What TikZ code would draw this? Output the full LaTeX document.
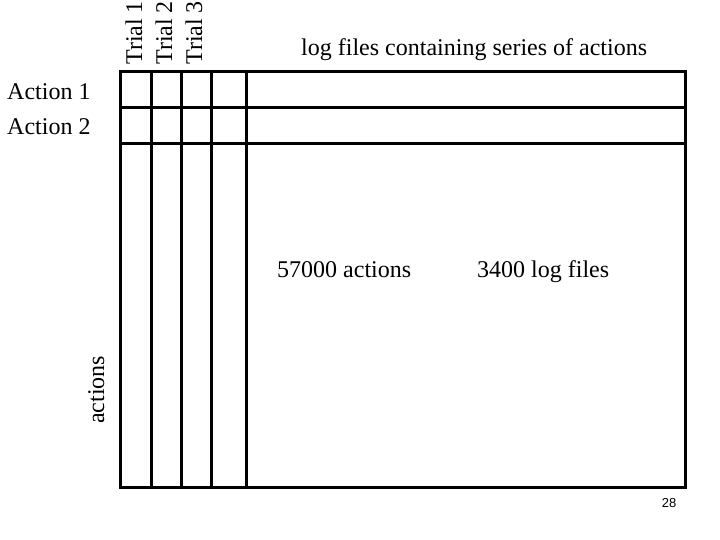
\documentclass[tikz,border=0pt]{standalone}
\usepackage{fontspec}
\setmainfont{Liberation Serif}
\newfontfamily\arialfont{Liberation Sans}
\usepackage{tikz}

\begin{document}
\begin{tikzpicture}[x=1pt, y=-1pt,
	gridline/.style={line width=3pt, line cap=rect},
	lbl/.style={inner sep=0pt, anchor=base west, font=\fontsize{24}{28}\selectfont},
	uplbl/.style={lbl, rotate=90}]
	\path (0,0) to (720,540); 

	% the matrix
	\draw[gridline] (120,72) rectangle (685,487);
	\draw[gridline] (151,72) -- (151,487);
	\draw[gridline] (181,72) -- (181,487);
	\draw[gridline] (211,72) -- (211,487);
	\draw[gridline] (246,72) -- (246,487);
	\draw[gridline] (120,108) -- (685,108);
	\draw[gridline] (120,144) -- (685,144);

	\node[uplbl] (trial1) at (142,65) {Trial 1};
	\node[uplbl] (trial2) at (172,65) {Trial 2};
	\node[uplbl] (trial3) at (202,65) {Trial 3};

	\node[lbl] (action1) at (7,100) {Action 1};
	\node[lbl] (action2) at (7,135) {Action 2};

	\node[lbl] (logfiles) at (301,56) {log files containing series of actions};
	\node[lbl] (nactions) at (277,277) {57000 actions};
	\node[lbl] (nlogs) at (477,277) {3400 log files};
	\node[uplbl] (actions) at (104,424) {actions};

	\node[inner sep=0pt, font=\arialfont\fontsize{13}{15}\selectfont] (page) at (669,503) {28};

\end{tikzpicture}
\end{document}
